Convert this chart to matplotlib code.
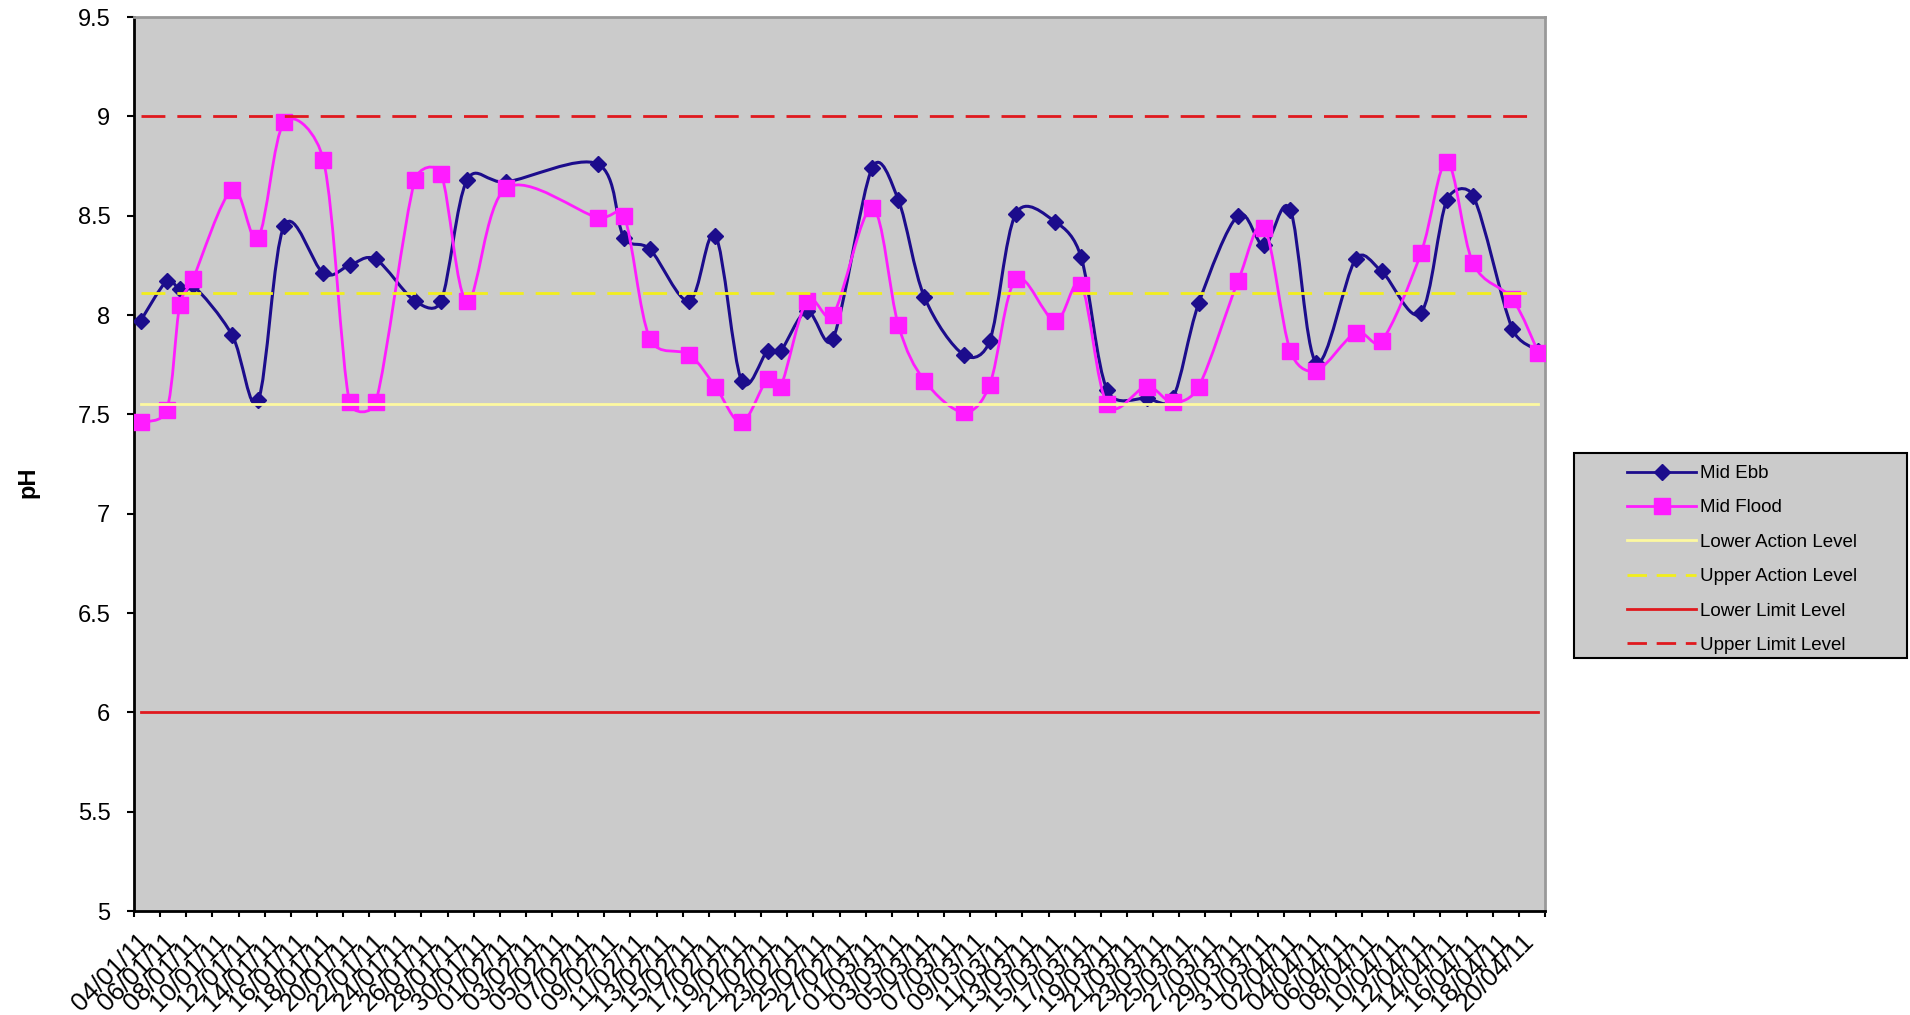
import datetime as dt

import numpy as np
import matplotlib
matplotlib.use("Agg")
import matplotlib.pyplot as plt
import matplotlib.dates as mdates
from matplotlib.path import Path
from matplotlib.patches import PathPatch, Rectangle
from matplotlib.lines import Line2D

plt.rcParams['font.family'] = ['Liberation Sans', 'DejaVu Sans']

# ---- data -------------------------------------------------------------
sample_dates = ["04/01/11", "06/01/11", "07/01/11", "08/01/11", "11/01/11",
                "13/01/11", "15/01/11", "18/01/11", "20/01/11", "22/01/11",
                "25/01/11", "27/01/11", "29/01/11", "01/02/11", "08/02/11",
                "10/02/11", "12/02/11", "15/02/11", "17/02/11", "19/02/11",
                "21/02/11", "22/02/11", "24/02/11", "26/02/11", "01/03/11",
                "03/03/11", "05/03/11", "08/03/11", "10/03/11", "12/03/11",
                "15/03/11", "17/03/11", "19/03/11", "22/03/11", "24/03/11",
                "26/03/11", "29/03/11", "31/03/11", "02/04/11", "04/04/11",
                "07/04/11", "09/04/11", "12/04/11", "14/04/11", "16/04/11",
                "19/04/11", "21/04/11"]

mid_ebb = [7.97, 8.17, 8.13, 8.15, 7.90, 7.57, 8.45, 8.21, 8.25, 8.28,
           8.07, 8.07, 8.68, 8.67, 8.76, 8.39, 8.33, 8.07, 8.40, 7.67,
           7.82, 7.82, 8.02, 7.88, 8.74, 8.58, 8.09, 7.80, 7.87, 8.51,
           8.47, 8.29, 7.62, 7.58, 7.58, 8.06, 8.50, 8.35, 8.53, 7.76,
           8.28, 8.22, 8.01, 8.58, 8.60, 7.93, 7.82]

mid_flood = [7.46, 7.52, 8.05, 8.18, 8.63, 8.39, 8.97, 8.78, 7.56, 7.56,
             8.68, 8.71, 8.07, 8.64, 8.49, 8.50, 7.88, 7.80, 7.64, 7.46,
             7.68, 7.64, 8.07, 8.00, 8.54, 7.95, 7.67, 7.51, 7.65, 8.18,
             7.97, 8.15, 7.55, 7.64, 7.56, 7.64, 8.17, 8.44, 7.82, 7.72,
             7.91, 7.87, 8.31, 8.77, 8.26, 8.08, 7.81]

lower_action_level = 7.55
upper_action_level = 8.11
lower_limit_level = 6.0
upper_limit_level = 9.0

axis_start = "04/01/11"
axis_end = "22/04/11"
y_ticks = [5, 5.5, 6, 6.5, 7, 7.5, 8, 8.5, 9, 9.5]

# ---- colours ----------------------------------------------------------
NAVY = "#1c0c8c"
MAGENTA = "#ff1cff"
PALE_YELLOW = "#fdf9a0"
YELLOW = "#f2ee1c"
RED = "#e0191e"
PLOT_BG = "#cbcbcb"


def to_num(s):
    return mdates.date2num(dt.datetime.strptime(s, "%d/%m/%y"))


def smooth_path(ax, x, y):
    """Smoothed line through the points: Catmull-Rom tangents, computed in
    screen space and capped at half the segment length to limit overshoot."""
    pts = ax.transData.transform(np.column_stack([x, y]))
    n = len(pts)
    tang = np.empty_like(pts)
    for i in range(n):
        a = pts[max(i - 1, 0)]
        b = pts[min(i + 1, n - 1)]
        tang[i] = (b - a) / 6.0

    def capped(t, seg):
        m = np.hypot(*t)
        lim = 0.5 * seg
        return t * (lim / m) if m > lim and m > 0 else t

    verts = [pts[0]]
    codes = [Path.MOVETO]
    for i in range(n - 1):
        p1, p2 = pts[i], pts[i + 1]
        seg = np.hypot(*(p2 - p1))
        c1 = p1 + capped(tang[i], seg)
        c2 = p2 - capped(tang[i + 1], seg)
        verts += [c1, c2, p2]
        codes += [Path.CURVE4] * 3
    verts = ax.transData.inverted().transform(np.array(verts))
    return Path(verts, codes)


# samples sit in the middle of their day slot
x = np.array([to_num(s) for s in sample_dates]) + 0.5
x0, x1 = to_num(axis_start), to_num(axis_end)

fig = plt.figure(figsize=(19.10, 10.15), dpi=100)
ax = fig.add_axes([134 / 1910, 1 - 911 / 1015, (1545 - 134) / 1910, (911 - 17) / 1015])
ax.set_facecolor(PLOT_BG)
ax.set_xlim(x0, x1)
ax.set_ylim(5, 9.5)

# series
ax.add_patch(PathPatch(smooth_path(ax, x, mid_ebb), facecolor="none",
                       edgecolor=NAVY, lw=2.2, zorder=3))
ax.plot(x, mid_ebb, linestyle="none", marker="D", markersize=8,
        color=NAVY, zorder=4)
ax.add_patch(PathPatch(smooth_path(ax, x, mid_flood), facecolor="none",
                       edgecolor=MAGENTA, lw=2.0, zorder=5))
ax.plot(x, mid_flood, linestyle="none", marker="s", markersize=11.5,
        color=MAGENTA, zorder=6)

# reference levels, spanning the sampled period
span = [x[0], x[-1]]
dash = (0, (8.6, 4.3))
ax.plot(span, [lower_action_level] * 2, color=PALE_YELLOW, lw=2.0, zorder=7)
ax.plot(span, [upper_action_level] * 2, color=YELLOW, lw=2.0, ls=dash, zorder=7)
ax.plot(span, [lower_limit_level] * 2, color=RED, lw=2.0, zorder=7)
ax.plot(span, [upper_limit_level] * 2, color=RED, lw=2.0, ls=dash, zorder=7)

# axes
ax.set_yticks(y_ticks)
ax.set_yticklabels([f"{v:g}" for v in y_ticks])
ax.tick_params(axis="y", length=5, width=1.5, pad=12, labelsize=17, colors="black")

boundaries = np.arange(x0, x1 + 0.01, 2)
ax.set_xticks(boundaries)
ax.set_xticklabels([])
ax.tick_params(axis="x", which="major", length=4.5, width=1.5)
label_pos = boundaries[:-1] + 0.25
labels = [mdates.num2date(b).strftime("%d/%m/%y") for b in boundaries[:-1]]
ax.set_xticks(label_pos, labels, minor=True)
ax.tick_params(axis="x", which="minor", length=0, pad=13, labelsize=18.5)
plt.setp(ax.get_xticklabels(minor=True), rotation=45, ha="right", va="top",
         rotation_mode="anchor")

for side in ("left", "bottom"):
    ax.spines[side].set_color("black")
    ax.spines[side].set_linewidth(2.0)
for side in ("top", "right"):
    ax.spines[side].set_color("#999999")
    ax.spines[side].set_linewidth(2.0)

fig.text(28 / 1910, 1 - 482 / 1015, "pH", rotation=90, fontsize=17,
         fontweight="bold", ha="center", va="center")

# legend box
fig.patches.append(Rectangle((1574 / 1910, 1 - 658 / 1015),
                             (1907 - 1574) / 1910, (658 - 453) / 1015,
                             transform=fig.transFigure, facecolor=PLOT_BG,
                             edgecolor="black", lw=1.5, zorder=0))
handles = [
    Line2D([], [], color=NAVY, lw=2.0, marker="D", markersize=8),
    Line2D([], [], color=MAGENTA, lw=2.0, marker="s", markersize=11),
    Line2D([], [], color=PALE_YELLOW, lw=2.0),
    Line2D([], [], color=YELLOW, lw=2.0, ls=(0, (7, 3.5))),
    Line2D([], [], color=RED, lw=2.0),
    Line2D([], [], color=RED, lw=2.0, ls=(0, (7, 3.5))),
]
names = ["Mid Ebb", "Mid Flood", "Lower Action Level", "Upper Action Level",
         "Lower Limit Level", "Upper Limit Level"]
fig.legend(handles, names, loc="upper left",
           bbox_to_anchor=(1627 / 1910, 1 - 465 / 1015), frameon=False,
           fontsize=13.5, handlelength=3.68, handletextpad=0.22, labelspacing=0.92,
           borderpad=0, borderaxespad=0, numpoints=1)

fig.savefig("out.png", dpi=100)
